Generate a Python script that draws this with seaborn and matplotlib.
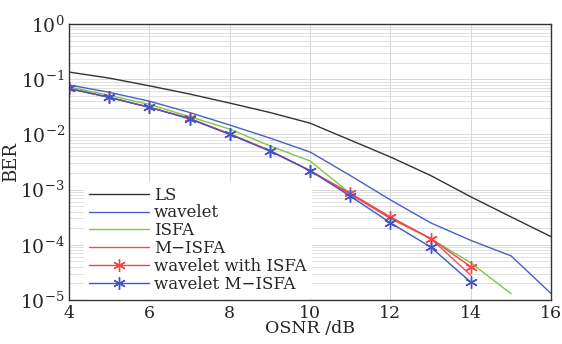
import numpy as np
import pandas as pd
import matplotlib
matplotlib.use('Agg')
import matplotlib.pyplot as plt
import seaborn as sns

# Datos (BER vs OSNR)
osnr = [4, 5, 6, 7, 8, 9, 10, 11, 12, 13, 14, 15, 16]
ber_ls = [0.135, 0.105, 0.076, 0.054, 0.037, 0.025, 0.016, 0.0079, 0.0039, 0.0018, 7.4e-4, 3.2e-4, 1.4e-4]
ber_wavelet = [0.079, 0.058, 0.040, 0.025, 0.0148, 0.0086, 0.0048, 0.0018, 6.5e-4, 2.5e-4, 1.2e-4, 6.3e-5, 1.3e-5]

osnr_isfa = [4, 5, 6, 7, 8, 9, 10, 11, 12, 13, 14, 15]
ber_isfa = [0.073, 0.051, 0.035, 0.021, 0.0125, 0.0062, 0.0033, 8.5e-4, 3.0e-4, 1.3e-4, 4.7e-5, 1.3e-5]

osnr_m = [4, 5, 6, 7, 8, 9, 10, 11, 12, 13, 14]
ber_misfa = [0.068, 0.047, 0.031, 0.0195, 0.0102, 0.0051, 0.0022, 8.2e-4, 3.0e-4, 1.3e-4, 2.8e-5]
ber_wav_isfa = [0.068, 0.047, 0.031, 0.0195, 0.0102, 0.0051, 0.0022, 8.6e-4, 3.2e-4, 1.3e-4, 4.0e-5]
ber_wav_misfa = [0.068, 0.047, 0.031, 0.0192, 0.0100, 0.0050, 0.0022, 7.6e-4, 2.5e-4, 9.1e-5, 2.1e-5]

sns.set_style("white")
plt.rcParams['font.family'] = ['DejaVu Serif']
plt.rcParams['mathtext.fontset'] = 'dejavuserif'

fig = plt.figure(figsize=(5.62, 3.44), dpi=100)
ax = fig.add_axes([0.1228, 0.128, 0.858, 0.802])

# asterisco tipo MATLAB
asterisco = (6, 2, 0)

series = [
    ('LS', osnr, ber_ls, '#333333', None),
    ('wavelet', osnr, ber_wavelet, '#4a5fc8', None),
    ('ISFA', osnr_isfa, ber_isfa, '#7cc84a', None),
    ('M\u2212ISFA', osnr_m, ber_misfa, '#f05050', None),
    ('wavelet with ISFA', osnr_m, ber_wav_isfa, '#f04848', asterisco),
    ('wavelet M\u2212ISFA', osnr_m, ber_wav_misfa, '#3f56c8', asterisco),
]

for nombre, x, y, color, mk in series:
    df = pd.DataFrame({'OSNR': x, 'BER': y})
    sns.lineplot(data=df, x='OSNR', y='BER', ax=ax, color=color, lw=1.0,
                 marker=mk, markersize=9 if mk else 0, markeredgewidth=1.0,
                 markeredgecolor=color, label=nombre)

ax.set_yscale('log')
ax.set_xlim(4, 16)
ax.set_ylim(1e-5, 1)
ax.set_xticks([4, 6, 8, 10, 12, 14, 16])
ax.set_yticks([1e-5, 1e-4, 1e-3, 1e-2, 1e-1, 1])
ax.grid(which='major', color='#d8d8d8', lw=0.7)
ax.grid(which='minor', axis='y', color='#dcdcdc', lw=0.6)
ax.tick_params(which='both', direction='in', length=4, color='#444444')
ax.tick_params(axis='x', labelsize=12.5)
ax.tick_params(axis='y', labelsize=13.5, pad=3)
ax.tick_params(which='minor', length=2)
for sp in ax.spines.values():
    sp.set_color('#333333')
    sp.set_linewidth(1.0)

ax.set_xlabel('OSNR /dB', fontsize=12.5, labelpad=-1)
ax.set_ylabel('BER', fontsize=13, labelpad=0)

leg = ax.legend(loc='lower left', bbox_to_anchor=(0.02, -0.01), fontsize=12,
                frameon=True, handlelength=3.6, handletextpad=0.3,
                labelspacing=0.05, borderpad=0.3, borderaxespad=0.3)
leg.get_frame().set_edgecolor('white')
leg.get_frame().set_facecolor('white')
leg.get_frame().set_alpha(1)

fig.savefig('out.png', dpi=100)
